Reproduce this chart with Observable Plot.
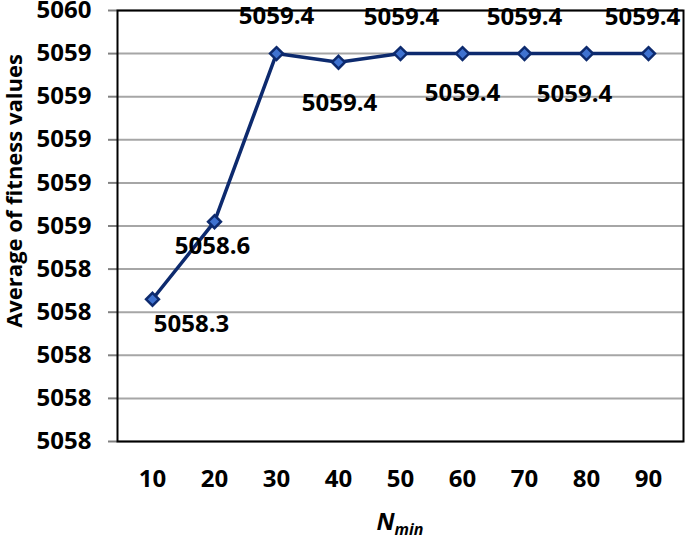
<!DOCTYPE html>
<html>
<head>
<meta charset="utf-8">
<script src="https://cdn.jsdelivr.net/npm/d3@7"></script>
<script src="https://cdn.jsdelivr.net/npm/@observablehq/plot@0.6"></script>
<style>
  html, body { margin: 0; padding: 0; background: #fff; }
  svg { display: block; }
</style>
</head>
<body>
<div id="chart"></div>
<script>
// ---- data ----
const nMin = [10, 20, 30, 40, 50, 60, 70, 80, 90];
const fitness = [5058.26, 5058.62, 5059.40, 5059.36, 5059.40, 5059.40, 5059.40, 5059.40, 5059.40];
const valueLabels = ["5058.3", "5058.6", "5059.4", "5059.4", "5059.4", "5059.4", "5059.4", "5059.4", "5059.4"];
const yTicks = [5057.6, 5057.8, 5058.0, 5058.2, 5058.4, 5058.6, 5058.8, 5059.0, 5059.2, 5059.4, 5059.6];
const yTickLabels = ["5058", "5058", "5058", "5058", "5058", "5059", "5059", "5059", "5059", "5059", "5060"];
const xTitle = "N";
const xTitleSub = "min";
const yTitle = "Average of fitness values";

// ---- rendering ----
const data = nMin.map((n, i) => ({n, v: fitness[i], label: valueLabels[i]}));
const labelOffsets = [[39, 25], [-2, 25], [0, -37], [1, 41], [1, -36], [0, 40], [0, -36], [-12, 41], [-6, -36]];
const FONT = "'Open Sans', 'Liberation Sans', sans-serif";

const chart = Plot.plot({
  width: 685,
  height: 539,
  marginLeft: 117,
  marginRight: 2,
  marginTop: 10,
  marginBottom: 98,
  style: {fontFamily: FONT, fontWeight: "bold", fontSize: "24px", color: "#000", background: "#fff", overflow: "hidden"},
  x: {type: "point", domain: nMin, padding: 0.5, label: null, tickSize: 0, tickPadding: 28},
  y: {domain: [5057.6, 5059.6], ticks: yTicks, label: null, tickSize: 9, tickPadding: 17,
      tickFormat: (d) => yTickLabels[yTicks.findIndex(t => Math.abs(t - d) < 1e-6)]},
  marks: [
    Plot.gridY(yTicks, {stroke: "#a6a6a6", strokeOpacity: 1, strokeWidth: 2}),
    Plot.frame({stroke: "#000", strokeWidth: 2}),
    Plot.line(data, {x: "n", y: "v", stroke: "#0d2a6e", strokeWidth: 3.5}),
    Plot.dot(data, {x: "n", y: "v", symbol: "diamond2", r: 5.8, fill: "#3f72d0", stroke: "#0d2a6e", strokeWidth: 2.5}),
    ...data.map((d, i) => Plot.text([d], {
      x: "n", y: "v", text: "label",
      dx: labelOffsets[i][0], dy: labelOffsets[i][1],
      fontSize: 24, fontWeight: 700, fill: "#000", textAnchor: "middle", lineAnchor: "middle"
    }))
  ]
});

document.getElementById("chart").appendChild(chart);

const svg = d3.select(chart);
svg.selectAll("[aria-label='y-axis tick']").attr("stroke", "#808080").attr("stroke-width", 2);

// y-axis title
svg.append("text")
  .attr("transform", "translate(22,191) rotate(-90)")
  .attr("text-anchor", "middle")
  .attr("font-family", FONT)
  .attr("font-weight", 700)
  .attr("font-size", 22)
  .attr("fill", "#000")
  .text(yTitle);

// x-axis title with subscript
const xt = svg.append("text")
  .attr("x", 400)
  .attr("y", 530)
  .attr("text-anchor", "middle")
  .attr("font-family", FONT)
  .attr("font-weight", 700)
  .attr("font-style", "italic")
  .attr("fill", "#000");
xt.append("tspan").attr("font-size", 24).text(xTitle);
xt.append("tspan").attr("font-size", 16).attr("dy", 5).text(xTitleSub);
</script>
</body>
</html>
